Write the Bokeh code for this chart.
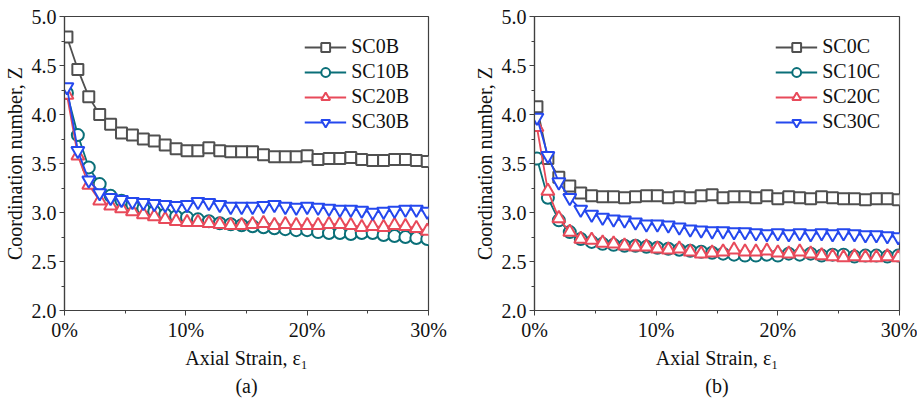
from bokeh.plotting import figure
from bokeh.layouts import row
from bokeh.models import FixedTicker, PrintfTickFormatter, Range1d, Legend, LegendItem, Title
from bokeh.embed import file_html
from bokeh.resources import INLINE

strain = [0.2, 1.1, 2.0, 2.9, 3.8, 4.7, 5.6, 6.5, 7.4, 8.3, 9.2, 10.1, 11.0, 11.9, 12.8, 13.7, 14.6,
          15.5, 16.4, 17.3, 18.2, 19.1, 20.0, 20.9, 21.8, 22.7, 23.6, 24.5, 25.4, 26.3, 27.2, 28.1, 29.0, 29.9]

SC0B = [4.79, 4.46, 4.18, 4.00, 3.90, 3.81, 3.79, 3.75, 3.73, 3.69, 3.65, 3.63, 3.63, 3.66, 3.63, 3.62, 3.62,
        3.62, 3.59, 3.57, 3.57, 3.57, 3.58, 3.54, 3.55, 3.55, 3.56, 3.54, 3.53, 3.53, 3.54, 3.54, 3.53, 3.52]
SC10B = [4.22, 3.79, 3.46, 3.29, 3.17, 3.12, 3.08, 3.04, 3.01, 2.98, 2.96, 2.95, 2.93, 2.91, 2.89, 2.88, 2.87,
         2.86, 2.85, 2.84, 2.83, 2.82, 2.82, 2.80, 2.79, 2.79, 2.78, 2.79, 2.79, 2.77, 2.76, 2.75, 2.74, 2.73]
SC20B = [4.20, 3.58, 3.28, 3.12, 3.07, 3.04, 3.01, 2.98, 2.96, 2.93, 2.91, 2.90, 2.90, 2.89, 2.88, 2.87, 2.87,
         2.88, 2.89, 2.87, 2.88, 2.87, 2.87, 2.87, 2.88, 2.88, 2.87, 2.85, 2.86, 2.85, 2.87, 2.86, 2.84, 2.81]
SC30B = [4.28, 3.63, 3.33, 3.20, 3.15, 3.13, 3.11, 3.10, 3.09, 3.08, 3.07, 3.08, 3.11, 3.10, 3.08, 3.06, 3.06,
         3.06, 3.07, 3.08, 3.06, 3.05, 3.06, 3.05, 3.04, 3.03, 3.03, 3.02, 3.00, 3.01, 3.02, 3.03, 3.03, 3.01]

SC0C = [4.08, 3.55, 3.36, 3.27, 3.20, 3.17, 3.16, 3.16, 3.15, 3.16, 3.17, 3.17, 3.15, 3.16, 3.15, 3.17, 3.18,
        3.15, 3.16, 3.16, 3.15, 3.17, 3.14, 3.16, 3.15, 3.14, 3.16, 3.15, 3.14, 3.14, 3.13, 3.14, 3.14, 3.13]
SC10C = [3.55, 3.15, 2.92, 2.80, 2.73, 2.70, 2.68, 2.67, 2.66, 2.66, 2.65, 2.64, 2.63, 2.62, 2.61, 2.60, 2.59,
         2.58, 2.57, 2.56, 2.56, 2.57, 2.56, 2.58, 2.57, 2.58, 2.56, 2.57, 2.57, 2.55, 2.56, 2.56, 2.55, 2.56]
SC20C = [3.87, 3.22, 2.94, 2.80, 2.73, 2.72, 2.69, 2.68, 2.66, 2.65, 2.65, 2.63, 2.62, 2.63, 2.60, 2.58, 2.59,
         2.60, 2.62, 2.60, 2.60, 2.61, 2.59, 2.58, 2.60, 2.58, 2.56, 2.55, 2.54, 2.55, 2.54, 2.54, 2.55, 2.54]
SC30C = [3.97, 3.58, 3.31, 3.15, 3.03, 2.98, 2.95, 2.93, 2.92, 2.90, 2.88, 2.88, 2.87, 2.85, 2.83, 2.82, 2.81,
         2.81, 2.80, 2.80, 2.79, 2.78, 2.79, 2.78, 2.79, 2.78, 2.79, 2.78, 2.79, 2.78, 2.77, 2.77, 2.76, 2.75]

x_ticks = [0, 10, 20, 30]
x_minor = [5, 15, 25]
y_ticks = [2.0, 2.5, 3.0, 3.5, 4.0, 4.5, 5.0]
y_minor = [2.25, 2.75, 3.25, 3.75, 4.25, 4.75]

FONT = "Liberation Serif"
colors = ["#505050", "#0a6f78", "#e84a5a", "#2548ee"]
markers = ["square", "circle", "triangle", "inverted_triangle"]
msizes = [11, 12, 13, 13]


def make_panel(series, names, caption, width, border_left, border_right):
    p = figure(width=width, height=405, output_backend="svg", toolbar_location=None,
               x_range=Range1d(0, 30), y_range=Range1d(2.0, 5.0),
               min_border_left=border_left, min_border_right=border_right,
               min_border_top=16, min_border_bottom=95)
    p.grid.visible = False
    p.outline_line_color = "#404040"
    p.outline_line_width = 1.2
    p.background_fill_color = "white"
    p.border_fill_color = "white"

    p.xaxis.ticker = FixedTicker(ticks=x_ticks, minor_ticks=x_minor)
    p.yaxis.ticker = FixedTicker(ticks=y_ticks, minor_ticks=y_minor)
    p.xaxis.formatter = PrintfTickFormatter(format="%d%%")
    p.yaxis.formatter = PrintfTickFormatter(format="%.1f")
    for ax in (p.xaxis, p.yaxis):
        ax.axis_line_color = "#404040"
        ax.axis_line_width = 1.2
        ax.major_tick_line_color = "#404040"
        ax.minor_tick_line_color = "#404040"
        ax.major_tick_out = 5
        ax.major_tick_in = 0
        ax.minor_tick_out = 3
        ax.minor_tick_in = 0
        ax.major_label_text_font = FONT
        ax.major_label_text_font_size = "20px"
        ax.major_label_text_color = "#111111"
        ax.axis_label_text_font = FONT
        ax.axis_label_text_font_size = "20px"
        ax.axis_label_text_font_style = "normal"
        ax.axis_label_text_color = "#111111"
    p.xaxis.axis_label = "Axial Strain, ε₁"
    p.yaxis.axis_label = "Coordination number, Z"
    p.xaxis.major_label_standoff = 3
    p.xaxis.axis_label_standoff = 3
    p.yaxis.major_label_standoff = 3
    p.yaxis.axis_label_standoff = 3

    items = []
    for vals, name, c, m, s in zip(series, names, colors, markers, msizes):
        ln = p.line(strain, vals, line_color=c, line_width=1.8)
        sc = p.scatter(strain, vals, marker=m, size=s, line_color=c, line_width=2, fill_color="white")
        items.append(LegendItem(label=name, renderers=[ln, sc]))
    leg = Legend(items=items, location="top_right")
    leg.background_fill_alpha = 0
    leg.border_line_alpha = 0
    leg.label_text_font = FONT
    leg.label_text_font_size = "20px"
    leg.label_text_color = "#111111"
    leg.glyph_width = 42
    leg.glyph_height = 22
    leg.spacing = 2
    leg.margin = 12
    leg.padding = 7
    leg.label_standoff = 5
    leg.label_height = 22
    p.add_layout(leg)

    t = Title(text=caption, align="center", text_font=FONT, text_font_size="20px",
              text_font_style="normal", text_color="#111111", standoff=2)
    p.add_layout(t, "below")
    return p


pa = make_panel([SC0B, SC10B, SC20B, SC30B], ["SC0B", "SC10B", "SC20B", "SC30B"], "(a)", 458, 64, 30)
pb = make_panel([SC0C, SC10C, SC20C, SC30C], ["SC0C", "SC10C", "SC20C", "SC30C"], "(b)", 459, 76, 18)

layout = row(pa, pb, spacing=0)
open("out.html", "w").write(file_html(layout, INLINE))
